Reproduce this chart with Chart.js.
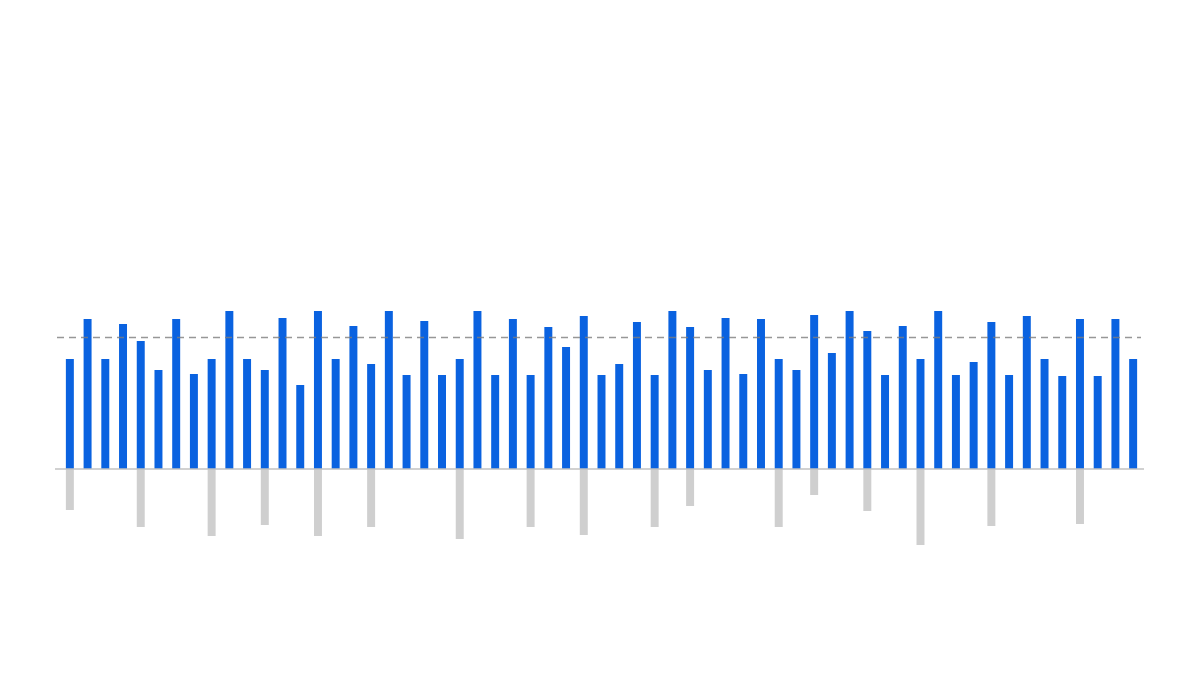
<!DOCTYPE html>
<html>
<head>
<meta charset="utf-8">
<script src="https://cdn.jsdelivr.net/npm/chart.js@4/dist/chart.umd.min.js"></script>
<style>
  html, body { margin: 0; padding: 0; background: #fff; }
  #wrap { width: 1200px; height: 675px; }
</style>
</head>
<body>
<div id="wrap"><canvas id="chart" width="1200" height="675"></canvas></div>
<script>
const labels = ["1","2","3","4","5","6","7","8","9","10","11","12","13","14","15","16","17","18","19","20",
  "21","22","23","24","25","26","27","28","29","30","31","32","33","34","35","36","37","38","39","40",
  "41","42","43","44","45","46","47","48","49","50","51","52","53","54","55","56","57","58","59","60","61"];

// blue bars (above the line)
const upValues = [110, 150, 110, 145, 128, 99, 150, 95, 110, 158, 110, 99, 151, 84, 158, 110, 143, 105, 158, 94,
  148, 94, 110, 158, 94, 150, 94, 142, 122, 153, 94, 105, 147, 94, 158, 142, 99, 151, 95, 150,
  110, 99, 154, 116, 158, 138, 94, 143, 110, 158, 94, 107, 147, 94, 153, 110, 93, 150, 93, 150, 110];

// grey bars (below the line), null = no bar
const downValues = [-41, null, null, null, -58, null, null, null, -67, null, null, -56, null, null, -67, null, null, -58, null, null,
  null, null, -70, null, null, null, -58, null, null, -66, null, null, null, -58, null, -37, null, null, null, null,
  -58, null, -26, null, null, -42, null, null, -76, null, null, null, -57, null, null, null, null, -55, null, null, null];

const targetLine = 132;

const BLUE = "#0a62e0", GREY = "#cfcfcf";

// baseline + dashed reference line
const lines = {
  id: "lines",
  afterDatasetsDraw(chart) {
    const { ctx, chartArea: a, scales: { y } } = chart;
    ctx.save();
    const y0 = y.getPixelForValue(0);
    ctx.strokeStyle = "#c2c2c2";
    ctx.lineWidth = 1.5;
    ctx.beginPath();
    ctx.moveTo(a.left - 6, y0);
    ctx.lineTo(a.right + 2, y0);
    ctx.stroke();

    const yt = Math.round(y.getPixelForValue(targetLine)) + 0.5;
    ctx.strokeStyle = "rgba(125,125,125,0.8)";
    ctx.lineWidth = 1.3;
    ctx.setLineDash([7, 5]);
    ctx.beginPath();
    ctx.moveTo(a.left - 4, yt);
    ctx.lineTo(a.right - 1, yt);
    ctx.stroke();
    ctx.restore();
  },
};

new Chart(document.getElementById("chart"), {
  type: "bar",
  data: {
    labels,
    datasets: [
      { data: upValues, backgroundColor: BLUE, barPercentage: 0.45, categoryPercentage: 1 },
      { data: downValues, backgroundColor: GREY, barPercentage: 0.45, categoryPercentage: 1 },
    ],
  },
  options: {
    responsive: false,
    animation: false,
    devicePixelRatio: 1,
    layout: { padding: { left: 61, right: 58, top: 269, bottom: 106 } },
    plugins: { legend: { display: false }, tooltip: { enabled: false } },
    scales: {
      x: { stacked: true, display: false },
      y: { stacked: true, display: false, min: -100, max: 200 },
    },
  },
  plugins: [lines],
});
</script>
</body>
</html>
